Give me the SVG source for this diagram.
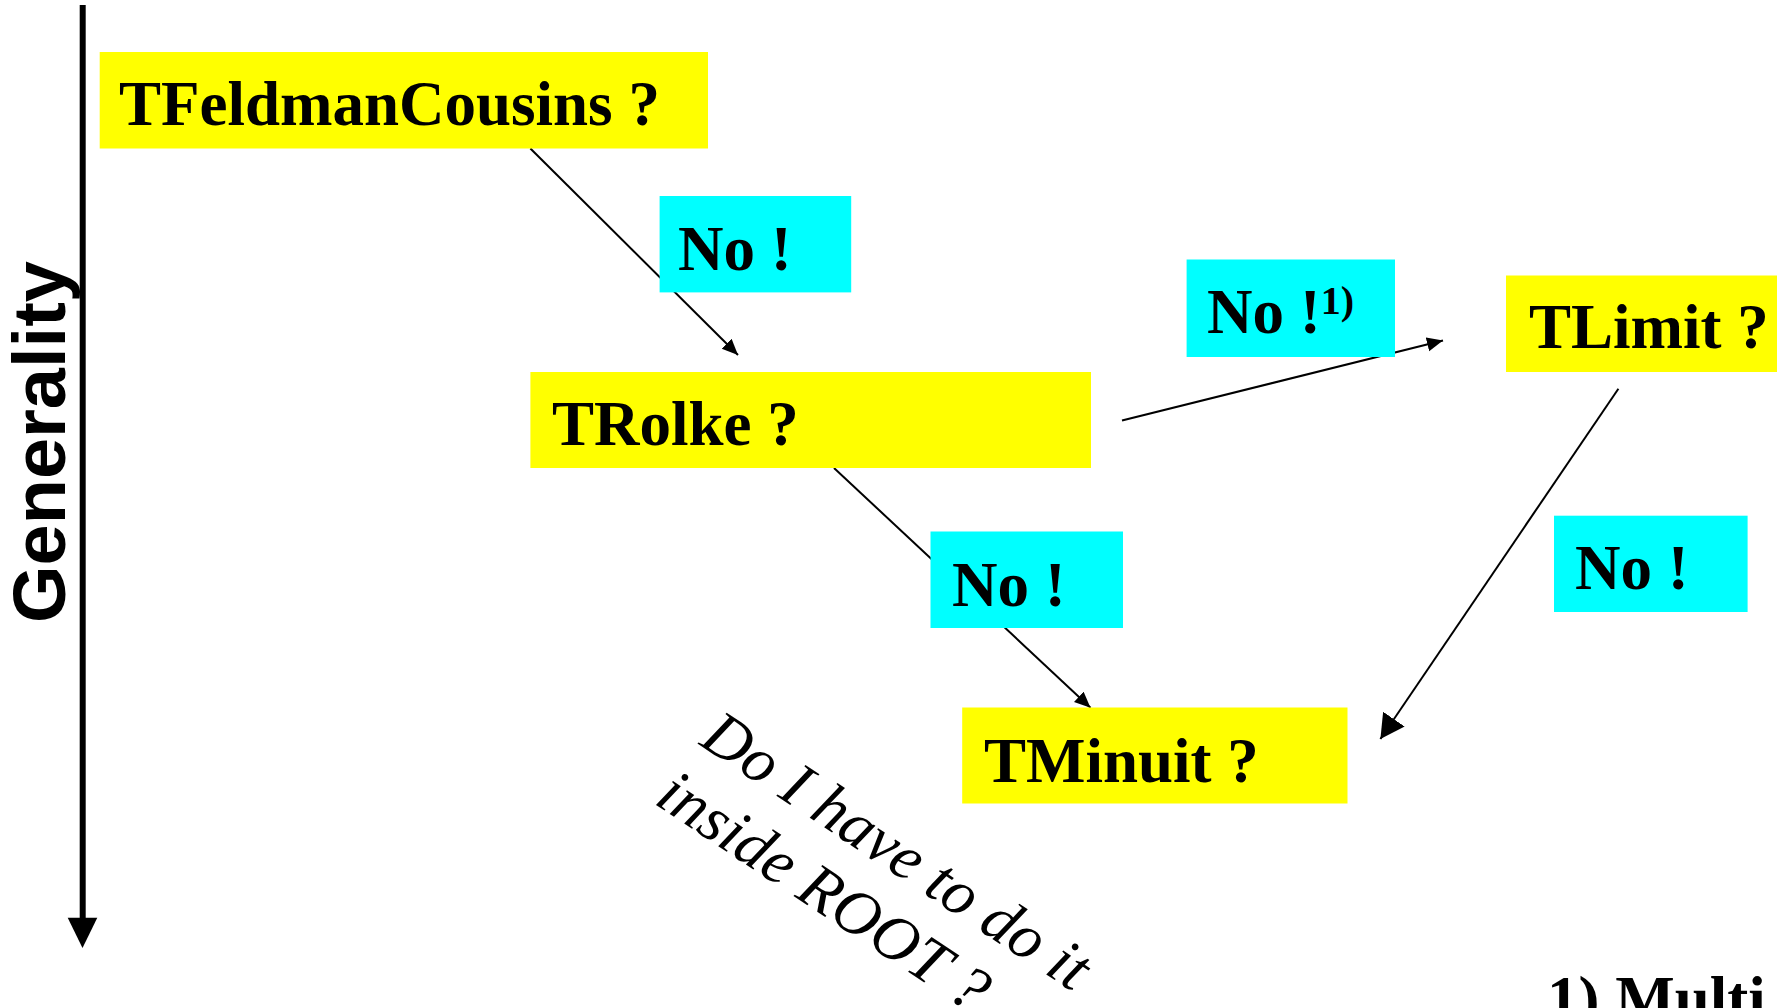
<svg xmlns="http://www.w3.org/2000/svg" width="1777" height="1008" viewBox="0 0 1777 1008">
  <style>
    .q { fill: #ffff00; }
    .a { fill: #00ffff; }
    .t { font-family: "Liberation Serif", "Times New Roman", serif; font-weight: bold; font-size: 63px; fill: #000; }
    .conn { stroke: #000; stroke-width: 2; fill: none; }
    .note { font-family: "Liberation Serif", "Times New Roman", serif; font-style: italic; font-size: 64px; fill: #000; }
  </style>
  <defs>
    <marker id="head" markerUnits="userSpaceOnUse" markerWidth="18" markerHeight="16" refX="16" refY="7" orient="auto">
      <path d="M0,0 L16,7 L0,14 Z" fill="#000"/>
    </marker>
    <marker id="headBig" markerUnits="userSpaceOnUse" markerWidth="26" markerHeight="28" refX="24" refY="13" orient="auto">
      <path d="M0,0 L24,13 L0,26 Z" fill="#000"/>
    </marker>
  </defs>
  <rect width="1777" height="1008" fill="#fff"/>

  <!-- generality axis -->
  <g id="axis">
    <line x1="82.7" y1="5" x2="82.7" y2="919" stroke="#000" stroke-width="6"/>
    <path d="M67.7,917.7 L97.3,917.7 L82.5,948 Z" fill="#000"/>
    <text transform="translate(65,623) rotate(-90)" font-family="'Liberation Sans', Arial, sans-serif" font-weight="bold" font-size="74" fill="#000">Generality</text>
  </g>

  <!-- connectors -->
  <g id="connectors">
    <line class="conn" x1="530.4" y1="148.5" x2="738" y2="355" marker-end="url(#head)"/>
    <line class="conn" x1="834" y1="468" x2="1090.5" y2="707.7" marker-end="url(#head)"/>
    <line class="conn" x1="1122" y1="420.5" x2="1443" y2="340.5" marker-end="url(#head)"/>
    <line class="conn" x1="1618.4" y1="388.7" x2="1380.4" y2="739" marker-end="url(#headBig)"/>
  </g>

  <!-- question nodes -->
  <g id="feldman">
    <rect class="q" x="99.7" y="52" width="608.3" height="96.5"/>
    <text class="t" x="119" y="125">TFeldmanCousins ?</text>
  </g>
  <g id="rolke">
    <rect class="q" x="530.4" y="372" width="560.6" height="96"/>
    <text class="t" x="552" y="445">TRolke ?</text>
  </g>
  <g id="limit">
    <rect class="q" x="1506" y="275.5" width="271" height="96.5"/>
    <text class="t" x="1529" y="348">TLimit ?</text>
  </g>
  <g id="minuit">
    <rect class="q" x="962.2" y="707.5" width="385.3" height="96"/>
    <text class="t" x="984" y="782">TMinuit ?</text>
  </g>

  <!-- answer labels -->
  <g id="no1">
    <rect class="a" x="659.6" y="196" width="191.6" height="96.4"/>
    <text class="t" x="678" y="270">No !</text>
  </g>
  <g id="no2">
    <rect class="a" x="1186.6" y="259.5" width="208.4" height="97.5"/>
    <text class="t" x="1207" y="333">No !<tspan font-size="40" dy="-19">1)</tspan></text>
  </g>
  <g id="no3">
    <rect class="a" x="930.5" y="531.5" width="192.5" height="96.5"/>
    <text class="t" x="952" y="606">No !</text>
  </g>
  <g id="no4">
    <rect class="a" x="1554" y="515.7" width="193.6" height="96.3"/>
    <text class="t" x="1575" y="589">No !</text>
  </g>

  <!-- slanted question -->
  <g id="question" transform="translate(698,744) rotate(33.5)">
    <text class="note" x="0" y="0">Do I have to do it</text>
    <text class="note" x="-5" y="74">inside ROOT ?</text>
  </g>

  <!-- footnote -->
  <text class="t" x="1547" y="1020" font-size="65">1) Multi</text>
</svg>
